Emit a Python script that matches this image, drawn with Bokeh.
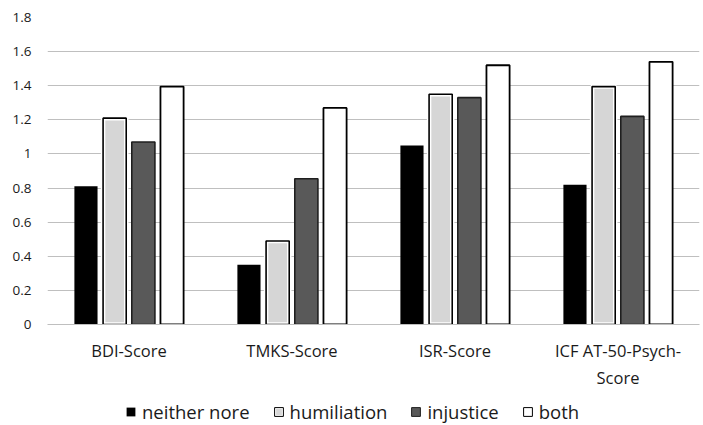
from bokeh.plotting import figure
from bokeh.layouts import column
from bokeh.models import (ColumnDataSource, FactorRange, FixedTicker, CustomJSTickFormatter,
                          Legend, LegendItem)
from bokeh.transform import dodge
from bokeh.embed import file_html
from bokeh.resources import INLINE

categories = ["BDI-Score", "TMKS-Score", "ISR-Score", "ICF AT-50-Psych-\nScore"]
series_names = ["neither nore", "humiliation", "injustice", "both"]
neither = [0.81, 0.35, 1.05, 0.82]
humiliation = [1.21, 0.49, 1.35, 1.395]
injustice = [1.07, 0.855, 1.33, 1.22]
both = [1.395, 1.27, 1.52, 1.54]
y_ticks = [0, 0.2, 0.4, 0.6, 0.8, 1.0, 1.2, 1.4, 1.6, 1.8]

src = ColumnDataSource(dict(cat=categories, neither=neither, humiliation=humiliation,
                            injustice=injustice, both=both))

FONT = "Open Sans"
TEXT_COLOR = "#1a1a1a"

# styles per series
styles = [
    dict(fill_color="black", line_color=None),
    dict(fill_color="#d6d6d6", line_color="white", line_width=4.5),
    dict(fill_color="#595959", line_color="#1f1f1f", line_width=1.6),
    dict(fill_color="white", line_color="black", line_width=1.8),
]
outline2 = dict(fill_color=None, line_color="black", line_width=1.6)

p = figure(width=703, height=392, x_range=FactorRange(*categories), y_range=(0, 1.8),
           output_backend="svg", toolbar_location=None,
           min_border_left=47, min_border_right=4, min_border_top=17, min_border_bottom=60)
p.outline_line_color = None

step = 0.176
w = 0.142
r1 = p.vbar(x=dodge("cat", -1.5 * step, range=p.x_range), top="neither", width=w, source=src, **styles[0])
r2a = p.vbar(x=dodge("cat", -0.5 * step, range=p.x_range), top="humiliation", width=w, source=src, **styles[1])
r2b = p.vbar(x=dodge("cat", -0.5 * step, range=p.x_range), top="humiliation", width=w, source=src, **outline2)
r3 = p.vbar(x=dodge("cat", 0.5 * step, range=p.x_range), top="injustice", width=w, source=src, **styles[2])
r4 = p.vbar(x=dodge("cat", 1.5 * step, range=p.x_range), top="both", width=w, source=src, **styles[3])

p.yaxis.ticker = FixedTicker(ticks=y_ticks)
p.yaxis.formatter = CustomJSTickFormatter(code="return tick.toFixed(1).replace(/\\.0$/, '');")
p.yaxis.axis_line_color = None
p.yaxis.major_tick_line_color = None
p.yaxis.minor_tick_line_color = None
p.yaxis.major_label_text_font = FONT
p.yaxis.major_label_text_font_size = "13.5px"
p.yaxis.major_label_text_color = TEXT_COLOR
p.yaxis.major_label_standoff = 10

p.xaxis.axis_line_color = "#bfbfbf"
p.xaxis.major_tick_line_color = None
p.xaxis.minor_tick_line_color = None
p.xaxis.major_label_text_font = FONT
p.xaxis.major_label_text_font_size = "16.5px"
p.xaxis.major_label_text_color = TEXT_COLOR
p.xaxis.major_label_standoff = 8

p.xgrid.grid_line_color = None
p.ygrid.grid_line_color = "#bfbfbf"
p.ygrid.grid_line_width = 1

# legend in a separate strip below the chart
lf = figure(width=703, height=33, x_range=(0, 1), y_range=(0, 1), output_backend="svg",
            toolbar_location=None, min_border=0, x_axis_location=None, y_axis_location=None)
lf.grid.grid_line_color = None
lf.outline_line_color = None
# one off-screen sample row so that the legend can draw each swatch
swatch = ColumnDataSource(dict(x=[-5], top=[-5]))
l1 = lf.vbar(x="x", top="top", width=0.1, source=swatch, **styles[0])
l2a = lf.vbar(x="x", top="top", width=0.1, source=swatch, **dict(styles[1], line_width=3))
l2b = lf.vbar(x="x", top="top", width=0.1, source=swatch, **dict(outline2, line_width=1))
l3 = lf.vbar(x="x", top="top", width=0.1, source=swatch, **dict(styles[2], line_width=1))
l4 = lf.vbar(x="x", top="top", width=0.1, source=swatch, **dict(styles[3], line_width=1))

legend = Legend(items=[
    LegendItem(label=series_names[0], renderers=[l1]),
    LegendItem(label=series_names[1], renderers=[l2a, l2b]),
    LegendItem(label=series_names[2], renderers=[l3]),
    LegendItem(label=series_names[3], renderers=[l4]),
], orientation="horizontal", location=(78, 1))
legend.label_text_font = FONT
legend.label_text_font_size = "18.5px"
legend.label_text_color = TEXT_COLOR
legend.glyph_width = 11
legend.glyph_height = 11
legend.label_standoff = 6
legend.spacing = 23
legend.border_line_color = None
legend.background_fill_alpha = 0
legend.padding = 0
legend.margin = 0
lf.add_layout(legend, "center")

layout = column(p, lf, spacing=0)
open("out.html", "w").write(file_html(layout, INLINE))
